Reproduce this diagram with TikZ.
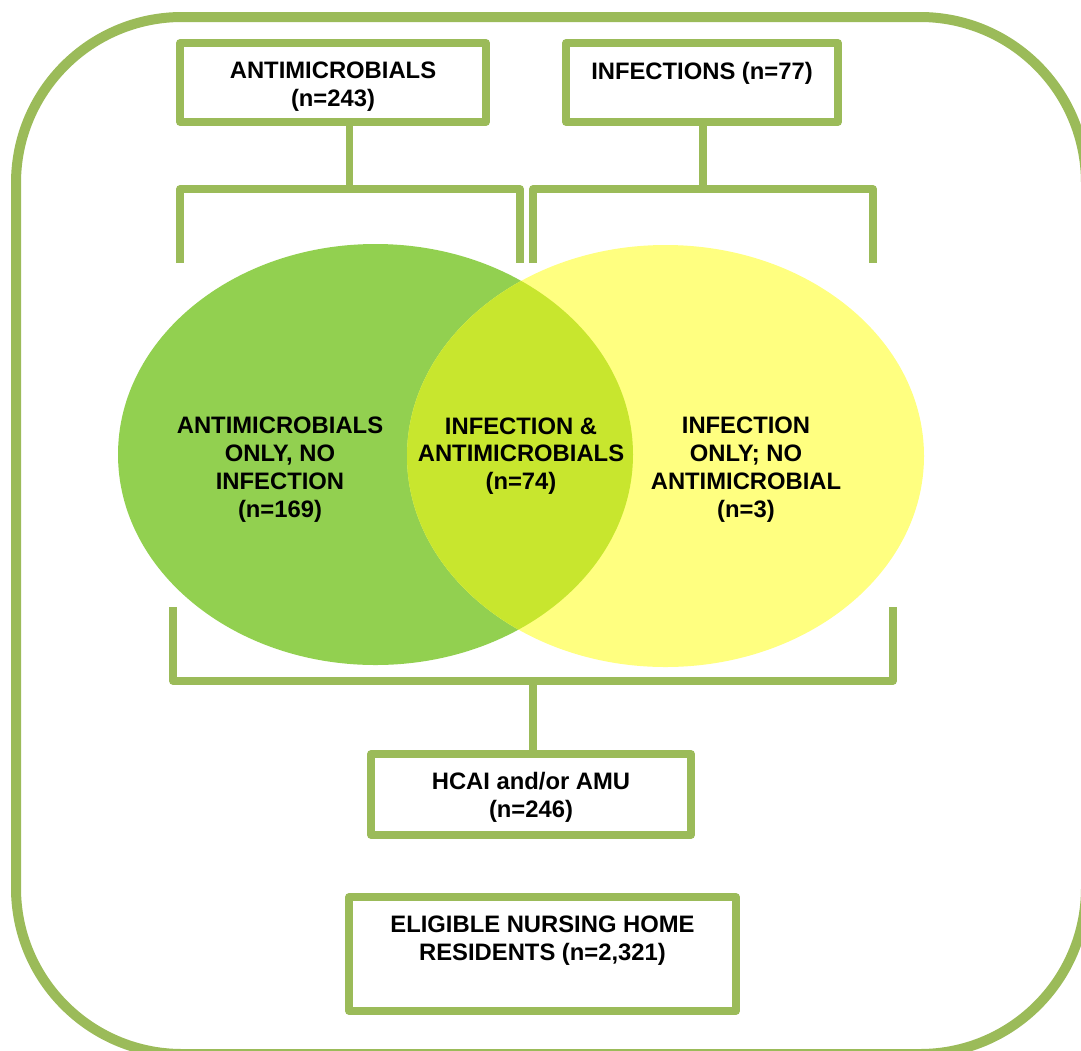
\documentclass[tikz,border=0pt]{standalone}
\usepackage{fontspec}
\setmainfont{Liberation Sans}
\definecolor{frame}{HTML}{9BBB59}
\definecolor{vgreen}{HTML}{92D050}
\definecolor{vyellow}{HTML}{FFFF80}
\definecolor{voverlap}{HTML}{C8E62E}
\begin{document}
\begin{tikzpicture}[x=1pt,y=-1pt,
  box/.style={draw=frame, line width=7.5pt, rectangle, inner sep=0pt, line join=round, fill=white},
  conn/.style={draw=frame, line width=7.5pt, line join=round},
  lbl/.style={font=\bfseries\fontsize{23.8}{27.7}\selectfont, align=center, inner sep=0pt, anchor=base}]
\useasboundingbox (0,0) rectangle (1081,1050);
\clip (0,0) rectangle (1081,1050);
% outer frame
\draw[frame, line width=10pt, rounded corners=166pt] (16,17) rectangle (1086,1054);
% Venn
\fill[vgreen] (375.5,454.5) ellipse [x radius=257.5pt, y radius=210.5pt];
\fill[vyellow] (665.5,456) ellipse [x radius=258.5pt, y radius=211pt];
\begin{scope}
  \clip (375.5,454.5) ellipse [x radius=257.5pt, y radius=210.5pt];
  \fill[voverlap] (665.5,456) ellipse [x radius=258.5pt, y radius=211pt];
\end{scope}
% (base anchor = baseline of last line)
\node[lbl] (vl) at (280,517) {ANTIMICROBIALS\\ONLY, NO\\INFECTION\\(n=169)};
\node[lbl] (vm) at (521,489.5) {INFECTION \&\\ANTIMICROBIALS\\(n=74)};
\node[lbl] (vr) at (746,517) {INFECTION\\ONLY; NO\\ANTIMICROBIAL\\(n=3)};
% top boxes
\node[box, minimum width=306pt, minimum height=79pt] (ab) at (333,82.5) {};
\node[lbl] (abt) at (333,106.5) {ANTIMICROBIALS\\(n=243)};
\node[box, minimum width=272pt, minimum height=79pt] (ib) at (702,82.5) {};
\node[lbl] (ibt) at (702,79) {INFECTIONS (n=77)};
% top brackets
\coordinate (LJ) at (349.5,189);
\coordinate (LA) at (180,263);
\coordinate (LB) at (520,263);
\coordinate (RJ) at (703,189);
\coordinate (RA) at (533,263);
\coordinate (RB) at (873,263);
\draw[conn] (LJ |- ab.south) -- (LJ);
\draw[conn] (LA) -- (LA |- LJ) -- (LB |- LJ) -- (LB);
\draw[conn] (RJ |- ib.south) -- (RJ);
\draw[conn] (RA) -- (RA |- RJ) -- (RB |- RJ) -- (RB);
% bottom bracket
\node[box, minimum width=320pt, minimum height=81pt] (hb) at (531,794.5) {};
\node[lbl] (hbt) at (531,817.5) {HCAI and/or AMU\\(n=246)};
\coordinate (BJ) at (533,681);
\coordinate (BA) at (173,607);
\coordinate (BB) at (893,607);
\draw[conn] (BA) -- (BA |- BJ) -- (BB |- BJ) -- (BB);
\draw[conn] (BJ) -- (BJ |- hb.north);
% eligible
\node[box, minimum width=387pt, minimum height=114pt] (eb) at (542.5,954) {};
\node[lbl] (ebt) at (542.5,960.5) {ELIGIBLE NURSING HOME\\RESIDENTS (n=2,321)};
\end{tikzpicture}
\end{document}
